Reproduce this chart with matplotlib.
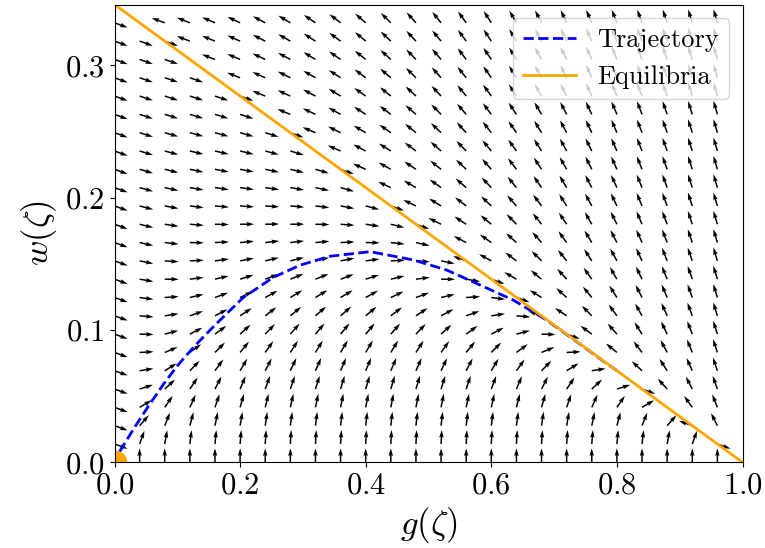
import numpy as np
import matplotlib
matplotlib.use("Agg")
import matplotlib.pyplot as plt
from matplotlib.ticker import MultipleLocator

plt.rcParams['font.family'] = 'cmr10'
plt.rcParams['mathtext.fontset'] = 'cm'
plt.rcParams['axes.formatter.use_mathtext'] = True
plt.rcParams['font.size'] = 20

# equilibria line w = c_eq * (1 - g)
c_eq = 0.346
# model parameters for the direction field
A = 3.4
B = 0.36

# trajectory
traj_g = [0.008, 0.0325, 0.057, 0.078, 0.099, 0.115, 0.131, 0.155, 0.179, 0.205,
          0.253, 0.295, 0.343, 0.407, 0.476, 0.529, 0.582, 0.635, 0.688, 0.725,
          0.778, 0.80]
traj_w = [0.008, 0.0268, 0.0446, 0.059, 0.0723, 0.0812, 0.0895, 0.1013, 0.1125, 0.1245,
          0.1398, 0.1489, 0.1557, 0.1592, 0.1529, 0.1453, 0.1340, 0.1226, 0.1075, 0.0949,
          0.0766, 0.0692]

eq_g = [0.0, 1.0]
eq_w = [c_eq, 0.0]

# direction field grid
g = np.arange(0, 1, 0.04)
w = np.linspace(0, c_eq, 26)[:-1]
G, W = np.meshgrid(g, w)
L = c_eq * (1 - G) - W
dG = W * L
dW = L * (A * G * L - B * W)
mag = np.hypot(dG, dW)
with np.errstate(invalid='ignore', divide='ignore'):
    U = dG / mag
    V = dW / mag

fig, ax = plt.subplots(figsize=(7.65, 5.48), dpi=100)
ax.quiver(G, W, U, V)
ax.plot(traj_g, traj_w, '--', color='blue', lw=2, label='Trajectory')
ax.plot(eq_g, eq_w, color='orange', lw=2, label='Equilibria')
ax.plot(0, 0, 'o', color='orange', ms=16)

ax.set_xlim(0, 1)
ax.set_ylim(0, c_eq)
ax.yaxis.set_major_locator(MultipleLocator(0.1))
ax.tick_params(labelsize=22)
ax.set_xlabel(r'$g(\zeta)$', fontsize=25)
ax.set_ylabel(r'$w(\zeta)$', fontsize=25)
ax.legend(loc='upper right', fontsize=19)

fig.subplots_adjust(left=114.5/765, right=742.5/765, bottom=1-462.3/548, top=1-4.5/548)
fig.savefig('out.png')
